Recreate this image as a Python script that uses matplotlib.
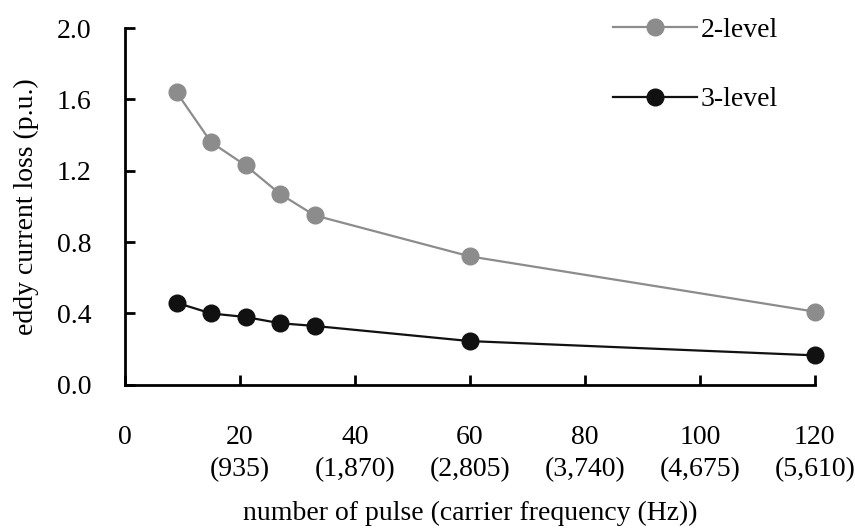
import matplotlib
matplotlib.use("Agg")
import matplotlib.pyplot as plt

# number of pulse and eddy current loss (p.u.)
pulses = [9, 15, 21, 27, 33, 60, 120]
loss_2level = [1.64, 1.36, 1.23, 1.07, 0.95, 0.72, 0.41]
loss_3level = [0.46, 0.40, 0.38, 0.345, 0.33, 0.245, 0.165]

xticks = [0, 20, 40, 60, 80, 100, 120]
xtick_labels = ["0", "20\n(935)", "40\n(1,870)", "60\n(2,805)",
                "80\n(3,740)", "100\n(4,675)", "120\n(5,610)"]
yticks = [0.0, 0.4, 0.8, 1.2, 1.6, 2.0]

plt.rcParams['font.family'] = ['Liberation Serif', 'DejaVu Serif']
fs = 20

fig = plt.figure(figsize=(8.55, 5.3), dpi=100)
ax = fig.add_axes([0.146, 0.274, 0.807, 0.673])

ax.plot(pulses, loss_2level, color="#8c8c8c", lw=1.6, marker="o", ms=12,
        label="2-level")
ax.plot(pulses, loss_3level, color="#111111", lw=1.6, marker="o", ms=12,
        label="3-level")

ax.set_xlim(0, 120)
ax.set_ylim(0, 2.0)
ax.set_xticks(xticks)
ax.set_xticklabels(xtick_labels, linespacing=1.38, va="top")
ax.set_yticks(yticks)
ax.set_yticklabels([f"{v:.1f}" for v in yticks])

for s in ["top", "right"]:
    ax.spines[s].set_visible(False)
for s in ["left", "bottom"]:
    ax.spines[s].set_linewidth(2)
ax.tick_params(direction="in", length=7, width=2, labelsize=fs)
ax.tick_params(axis="x", pad=29)
ax.tick_params(axis="y", pad=24)

ax.set_ylabel("eddy current loss (p.u.)", fontsize=fs, labelpad=13)
ax.set_xlabel("number of pulse (carrier frequency (Hz))", fontsize=fs, labelpad=13)

ax.legend(loc="upper right", bbox_to_anchor=(0.983, 1.099), frameon=False,
          fontsize=fs, handlelength=3.0, handletextpad=0.15, labelspacing=1.57)

for line in ax.get_lines():
    line.set_clip_on(False)

fig.savefig("out.png", dpi=100)
